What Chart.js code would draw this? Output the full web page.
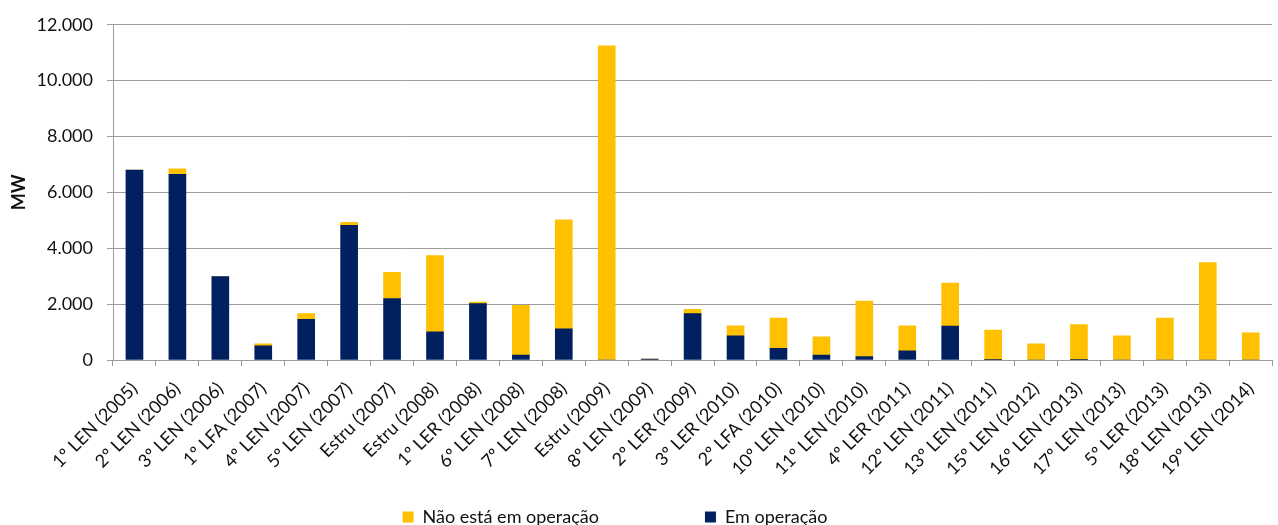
<!DOCTYPE html>
<html lang="pt">
<head>
    <meta charset="UTF-8">
    <title>MW por leilão</title>
    <script src="https://cdn.jsdelivr.net/npm/chart.js"></script>
    <style>
        body {
            margin: 0;
            padding: 0;
            background: #fff;
        }
        canvas {
            display: block;
        }
    </style>
</head>
<body>
    <canvas id="leiloesChart" width="1278" height="525"></canvas>

    <script>
        // Leilões (categorias do eixo X)
        const leiloes = [
            '1º LEN (2005)', '2º LEN (2006)', '3º LEN (2006)', '1º LFA (2007)', '4º LEN (2007)',
            '5º LEN (2007)', 'Estru (2007)', 'Estru (2008)', '1º LER (2008)', '6º LEN (2008)',
            '7º LEN (2008)', 'Estru (2009)', '8º LEN (2009)', '2º LER (2009)', '3º LER (2010)',
            '2º LFA (2010)', '10º LEN (2010)', '11º LEN (2010)', '4º LER (2011)', '12º LEN (2011)',
            '13º LEN (2011)', '15º LEN (2012)', '16º LEN (2013)', '17º LEN (2013)', '5º LER (2013)',
            '18º LEN (2013)', '19º LEN (2014)'
        ];

        // MW em operação (parte de baixo da pilha)
        const emOperacao = [
            6800, 6650, 2990, 510, 1460,
            4820, 2200, 1010, 2020, 180,
            1115, 0, 30, 1660, 865,
            415, 180, 120, 330, 1210,
            10, 0, 10, 0, 0,
            0, 0
        ];

        // MW que ainda não está em operação (parte de cima)
        const naoOperacao = [
            0, 190, 0, 70, 200,
            105, 935, 2730, 55, 1780,
            3905, 11250, 0, 155, 355,
            1090, 650, 1990, 890, 1545,
            1060, 580, 1260, 865, 1505,
            3490, 970
        ];

        const yTicks = [0, 2000, 4000, 6000, 8000, 10000, 12000];

        const fonte = 'Lato, "Open Sans", sans-serif';
        const cinza = '#9c9c9c';

        // the x axis box is short (legend sits under it), so let its labels draw past its bottom
        const soltarRotulos = {
            id: 'soltarRotulos',
            afterLayout(chart) {
                chart.scales.x.bottom = chart.height;
            }
        };

        const ctx = document.getElementById('leiloesChart').getContext('2d');
        const chart = new Chart(ctx, {
            type: 'bar',
            data: {
                labels: leiloes,
                datasets: [
                    {
                        label: 'Em operação',
                        data: emOperacao,
                        backgroundColor: '#002060',
                        borderWidth: 0,
                        barThickness: 17
                    },
                    {
                        label: 'Não está em operação',
                        data: naoOperacao,
                        backgroundColor: '#ffc000',
                        borderWidth: 0,
                        barThickness: 17
                    }
                ]
            },
            plugins: [soltarRotulos],
            options: {
                responsive: false,
                animation: false,
                devicePixelRatio: 1,
                layout: {
                    padding: { left: -56, right: -8, top: 23, bottom: -11 }
                },
                plugins: {
                    tooltip: { enabled: false },
                    legend: {
                        position: 'bottom',
                        reverse: true,
                        labels: {
                            boxWidth: 11,
                            boxHeight: 11,
                            padding: 106,
                            color: '#111',
                            font: { family: fonte, size: 18 }
                        }
                    }
                },
                scales: {
                    x: {
                        stacked: true,
                        grid: {
                            drawOnChartArea: false,
                            drawTicks: true,
                            tickLength: 6,
                            color: cinza
                        },
                        border: { color: cinza },
                        ticks: {
                            autoSkip: false,
                            minRotation: 45,
                            maxRotation: 45,
                            padding: 12,
                            color: '#111',
                            font: { family: fonte, size: 18 }
                        },
                        afterFit: (scale) => { scale.height = 42; }
                    },
                    y: {
                        stacked: true,
                        min: 0,
                        max: 12000,
                        afterBuildTicks: (scale) => {
                            scale.ticks = yTicks.map(v => ({ value: v }));
                        },
                        grid: {
                            color: cinza,
                            tickLength: 6
                        },
                        border: { color: cinza },
                        ticks: {
                            padding: 14,
                            color: '#111',
                            font: { family: fonte, size: 18 },
                            callback: (v) => v.toString().replace(/\B(?=(\d{3})+(?!\d))/g, '.')
                        },
                        title: {
                            display: true,
                            text: 'MW',
                            color: '#111',
                            padding: { top: 64, bottom: 0 },
                            font: { family: fonte, size: 18, weight: 'bold' }
                        },
                        afterFit: (scale) => { scale.width = 169; }
                    }
                }
            }
        });
    </script>
</body>
</html>
